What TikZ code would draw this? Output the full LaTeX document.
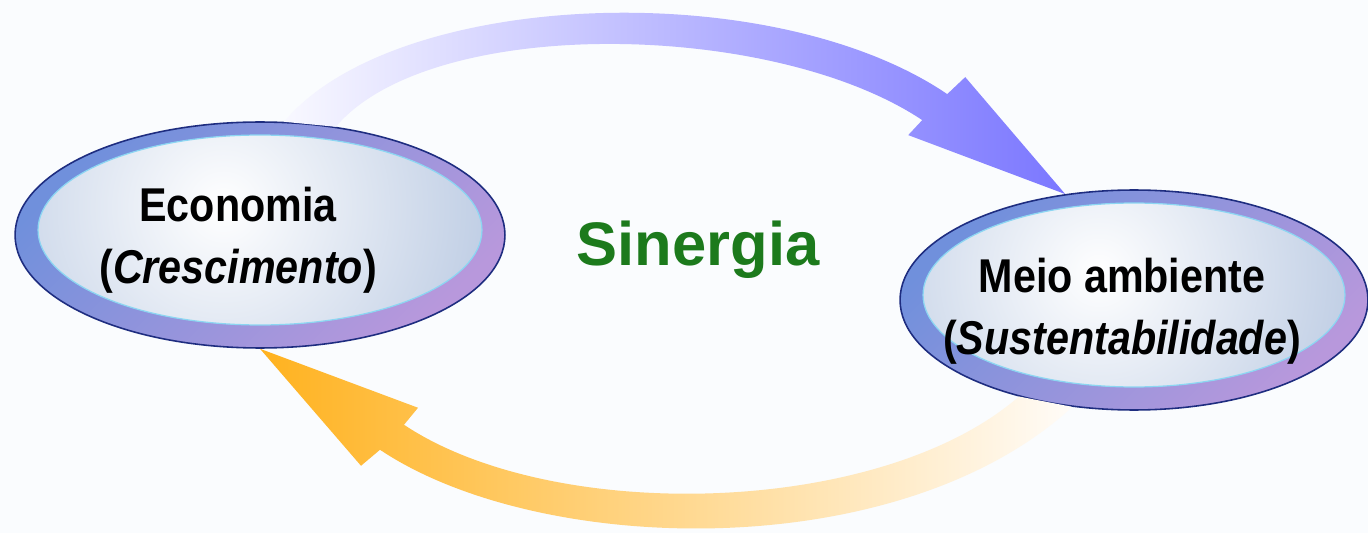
\documentclass[tikz,border=0pt]{standalone}
\usepackage{fontspec}
\setmainfont{Liberation Sans}
\newfontfamily\ringfont{Liberation Sans}[FakeStretch=0.87]
\usepackage{tikz}
\usetikzlibrary{shapes.geometric,calc,positioning}
\definecolor{bgtint}{HTML}{FAFCFE}
\definecolor{ringblue}{HTML}{7090DC}
\definecolor{ringpurple}{HTML}{B898DC}
\definecolor{ringedge}{HTML}{1E2D80}
\definecolor{innerblue}{HTML}{B0C2DE}
\definecolor{innercyan}{HTML}{8CD6F2}
\definecolor{arrowblue}{HTML}{7B77FF}
\definecolor{arroworange}{HTML}{FFB21F}
\definecolor{arrowpeach}{HTML}{FFD6A8}
\definecolor{sinergreen}{HTML}{1C7A1C}

\begin{document}
\begin{tikzpicture}[x=0.02cm, y=-0.02cm,
  ring/.style 2 args={ellipse, draw=ringedge, line width=0.9pt, minimum width=#1, minimum height=#2, inner sep=0pt,
    left color=ringblue, right color=ringpurple, shading angle=45,
    path picture={
      \begin{scope}
        \clip ([yshift=0.1cm]path picture bounding box.center) ellipse [x radius={#1/2-0.46cm}, y radius={#2/2-0.36cm}];
        \fill[innerblue] (path picture bounding box.south west) rectangle (path picture bounding box.north east);
        \shade[inner color=white, outer color=innerblue] ([xshift=-0.15*#1/2, yshift=0.25*#2/2]path picture bounding box.center) ellipse [x radius={0.95*#1}, y radius={0.9*#2}];
      \end{scope}
      \draw[innercyan, line width=0.7pt] ([yshift=0.1cm]path picture bounding box.center) ellipse [x radius={#1/2-0.46cm}, y radius={#2/2-0.36cm}];
    }},
  ringtext/.style={font=\ringfont\bfseries\fontsize{27}{35}\selectfont, align=center, inner sep=0pt},
  toparrow/.style={left color=arrowblue!5!white, middle color=arrowblue!40!white, right color=arrowblue},
  botarrow/.style={left color=arroworange, middle color=arrowpeach, right color=arrowpeach!8!white}
]
\useasboundingbox (0,0) rectangle (1368,533);
\fill[bgtint] (0,0) rectangle (1368,533);

\node[ring={9.8cm}{4.52cm}] (eco) at (260,235) {};
\node[ring={9.36cm}{4.4cm}] (meio) at (1134,300) {};

% arrows
\path[toparrow] (eco.78) .. controls +(110,-132) and +(-177,-120) .. ($(meio.123)+(-118,-100)$)
  -- ($(meio.123)+(-100,-117)$) -- (meio.123) -- ($(meio.123)+(-157,-59)$) -- ($(meio.123)+(-143,-74)$)
  .. controls +(-150,-100) and +(95,-112) .. (eco.55) -- cycle;
\path[botarrow] (eco.south) -- ($(eco.south)+(158,59)$) -- ($(eco.south)+(144,76)$)
  .. controls +(150,100) and +(-138,120) .. (meio.-140) -- (meio.-120)
  .. controls +(-173,159) and +(160,107) .. ($(eco.south)+(120,101)$) -- ($(eco.south)+(101,117)$) -- cycle;

\node[ringtext] (ecotext) at ([xshift=-0.44cm, yshift=-0.1cm]eco.center) {Economia\\(\textit{Crescimento})};
\node[ringtext] (meiotext) at ([xshift=-0.24cm, yshift=-0.22cm]meio.center) {Meio ambiente\\(\textit{Sustentabilidade})};
\node[font=\bfseries\fontsize{35}{40}\selectfont, text=sinergreen] (sinergia) at (698,250) {Sinergia};
\end{tikzpicture}
\end{document}
